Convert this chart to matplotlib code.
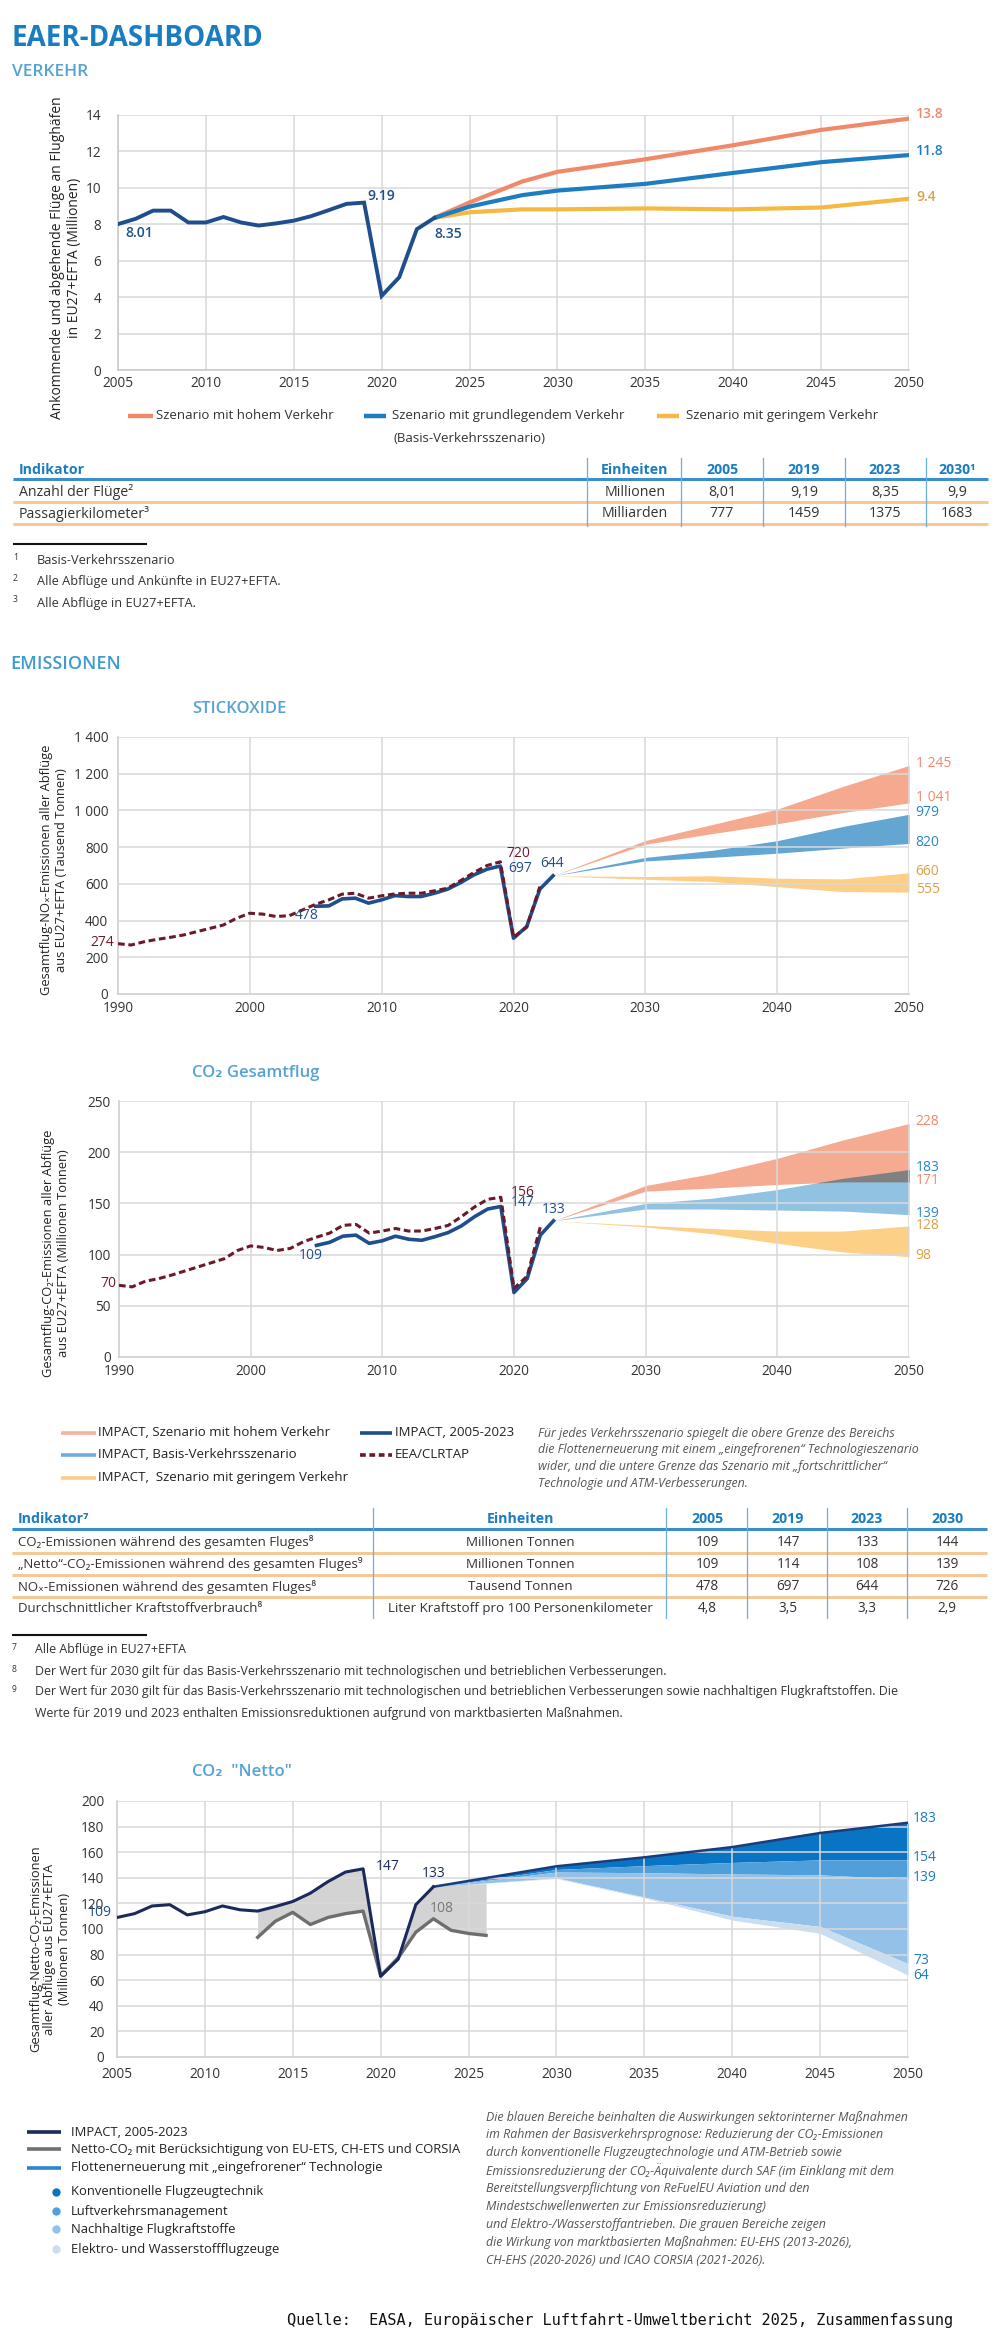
import numpy as np
import matplotlib
matplotlib.use('Agg')
import matplotlib.pyplot as plt
from matplotlib import font_manager as fm
from matplotlib.lines import Line2D

# ---------------- fonts ----------------
_all = fm.fontManager.ttflist


def _ok(name):
    bold = any(f.name == name and int(f.weight) >= 600 for f in _all)
    ital = any(f.name == name and f.style == 'italic' for f in _all)
    return bold and ital


BF = next((n for n in ['Open Sans', 'Noto Sans', 'Fira Sans', 'Lato'] if _ok(n)), 'DejaVu Sans')
SEMI = 'semibold' if any(f.name == BF and int(f.weight) == 600 for f in _all) else 'bold'
BODY = [BF, 'DejaVu Sans']
MONO = ['DejaVu Sans Mono']

# ---------------- data : Verkehr ----------------
flight_years = list(range(2005, 2024))
flights_hist = [8.01, 8.3, 8.75, 8.75, 8.1, 8.1, 8.4, 8.1, 7.93, 8.05, 8.2, 8.45, 8.78, 9.12, 9.19, 4.07, 5.09, 7.73, 8.35]
scen_years = [2023, 2025, 2028, 2030, 2035, 2040, 2045, 2050]
flights_high = [8.35, 9.2, 10.35, 10.88, 11.57, 12.34, 13.18, 13.8]
flights_base = [8.35, 8.97, 9.6, 9.85, 10.22, 10.82, 11.41, 11.8]
flights_low = [8.35, 8.66, 8.82, 8.82, 8.87, 8.82, 8.92, 9.4]

table1_cols = ['Einheiten', '2005', '2019', '2023', '2030\u00b9']
table1_rows = ['Anzahl der Flüge\u00b2', 'Passagierkilometer\u00b3']
table1_units = ['Millionen', 'Milliarden']
table1_vals = [['8,01', '9,19', '8,35', '9,9'], ['777', '1459', '1375', '1683']]
foot1 = [('1', 'Basis-Verkehrsszenario'),
         ('2', 'Alle Abflüge und Ankünfte in EU27+EFTA.'),
         ('3', 'Alle Abflüge in EU27+EFTA.')]

# ---------------- data : Stickoxide ----------------
eea_years = list(range(1990, 2023))
nox_eea = [274, 267, 285, 298, 309, 322, 340, 358, 376, 413, 440, 435, 422, 427, 458, 489, 513, 544, 549,
           522, 535, 545, 549, 549, 562, 576, 618, 662, 700, 720, 309, 364, 585]
impact_years = list(range(2005, 2024))
nox_impact = [478, 480, 518, 522, 495, 513, 536, 531, 531, 549, 571, 607, 649, 680, 697, 304, 367, 571, 644]
proj_years = [2023, 2030, 2035, 2040, 2045, 2050]
nox_high_up = [644, 836, 922, 1007, 1131, 1245]
nox_high_lo = [644, 816, 873, 927, 989, 1041]
nox_base_up = [644, 744, 782, 835, 913, 979]
nox_base_lo = [644, 725, 744, 767, 795, 820]
nox_low_up = [644, 640, 644, 631, 627, 660]
nox_low_lo = [644, 625, 613, 585, 558, 555]

# ---------------- data : CO2 Gesamtflug ----------------
co2_eea = [70, 68.5, 74, 76.5, 80, 84, 88, 92, 96, 104, 108.5, 107, 104, 106, 112.5, 117, 121, 128.5, 129.5,
           121, 123, 125.5, 123, 123, 125.5, 128.5, 137, 146.5, 154, 156, 67, 79, 127]
co2_impact = [109, 112, 118, 119, 111, 113.5, 118, 115, 114, 117.5, 121.5, 128, 137, 144.5, 147, 63, 76.5, 119, 133]
co2_high_up = [133, 167.5, 179, 194, 212, 228]
co2_high_lo = [133, 162, 165, 168.5, 171, 171]
co2_base_up = [133, 150, 155, 163.5, 174.5, 183]
co2_base_lo = [133, 144.5, 144.5, 143.5, 142.5, 139]
co2_low_up = [133, 128.5, 125.5, 123, 123, 128]
co2_low_lo = [133, 127, 120.5, 111, 102.5, 98]

table2_cols = ['Einheiten', '2005', '2019', '2023', '2030']
table2_rows = ['CO\u2082-Emissionen während des gesamten Fluges\u2078',
               '\u201eNetto\u201c-CO\u2082-Emissionen während des gesamten Fluges\u2079',
               'NO\u2093-Emissionen während des gesamten Fluges\u2078',
               'Durchschnittlicher Kraftstoffverbrauch\u2078']
table2_units = ['Millionen Tonnen', 'Millionen Tonnen', 'Tausend Tonnen',
                'Liter Kraftstoff pro 100 Personenkilometer']
table2_vals = [['109', '147', '133', '144'], ['109', '114', '108', '139'],
               ['478', '697', '644', '726'], ['4,8', '3,5', '3,3', '2,9']]
foot2 = [('7', ['Alle Abflüge in EU27+EFTA']),
         ('8', ['Der Wert für 2030 gilt für das Basis-Verkehrsszenario mit technologischen und betrieblichen Verbesserungen.']),
         ('9', ['Der Wert für 2030 gilt für das Basis-Verkehrsszenario mit technologischen und betrieblichen Verbesserungen sowie nachhaltigen Flugkraftstoffen. Die',
                'Werte für 2019 und 2023 enthalten Emissionsreduktionen aufgrund von marktbasierten Maßnahmen.'])]

# ---------------- data : CO2 Netto ----------------
net_years = list(range(2013, 2027))
net_co2 = [93.5, 106, 113, 103.5, 109, 112, 114, 63.5, 77.5, 97.5, 108, 99, 96.5, 95]
net_gross = [114, 117.5, 121.5, 128, 137, 144.5, 147, 63, 76.5, 119, 133, 134, 135, 135.5]
net_frozen = [133, 149, 156, 164, 175, 183]
net_b1 = [133, 146.5, 149.5, 152, 154, 154]
net_b2 = [133, 144.5, 144, 143, 142.3, 139]
net_b3 = [133, 140, 125, 110, 102, 73]
net_b4 = [133, 139.5, 124.3, 107, 96.6, 64]

# ---------------- colours ----------------
TBLUE = '#1A7CC1'
LBLUE = '#55A3D6'
NAVY = '#1F4E8C'
DNAVY = '#1B2A5C'
MAROON = '#6B1A2A'
SALMON = '#F0896A'
BLUE = '#1E7CC0'
GOLD = '#F5B942'
GOLDT = '#D9A047'
GRID = '#D9D9D9'
TXT = '#333333'

W, H = 1000, 2350
fig = plt.figure(figsize=(10, 23.5), dpi=100)
fig.patch.set_facecolor('white')


def fx(x):
    return x / W


def fy(y):
    return 1 - y / H


def add_ax(x0, y0, x1, y1):
    return fig.add_axes([fx(x0), fy(y1), (x1 - x0) / W, (y1 - y0) / H])


def T(x, y, s, size=9.5, color=TXT, weight='normal', ha='left', va='center', style='normal',
      family=None, **kw):
    fig.text(fx(x), fy(y), s, fontsize=size, color=color, fontweight=weight, ha=ha, va=va,
             fontstyle=style, family=family or BODY, **kw)


def hline(x0, x1, y, color, lw, ls='-'):
    fig.add_artist(Line2D([fx(x0), fx(x1)], [fy(y), fy(y)], color=color, lw=lw, ls=ls,
                          transform=fig.transFigure, solid_capstyle='butt'))


def vline(x, y0, y1, color, lw):
    fig.add_artist(Line2D([fx(x), fx(x)], [fy(y0), fy(y1)], color=color, lw=lw,
                          transform=fig.transFigure))


def style_ax(ax, xlim, xticks, ylim, yticks, ylabels=None, grid_over=False, ypad=8, xpad=5, size=9.8):
    ax.set_xlim(*xlim)
    ax.set_ylim(*ylim)
    ax.set_xticks(xticks)
    ax.set_yticks(yticks)
    if ylabels is not None:
        ax.set_yticklabels(ylabels)
    ax.grid(True, color=GRID, lw=1.1)
    ax.set_axisbelow(not grid_over)
    for s in ['top', 'right']:
        ax.spines[s].set_visible(False)
    for s in ['left', 'bottom']:
        ax.spines[s].set_color('#C8C8C8')
        ax.spines[s].set_linewidth(1.1)
    ax.tick_params(axis='y', length=0, labelsize=size, colors=TXT, pad=ypad)
    ax.tick_params(axis='x', length=0, labelsize=size, colors=TXT, pad=xpad)
    for lab in ax.get_xticklabels() + ax.get_yticklabels():
        lab.set_family(BODY)


def atext(ax, x, y, s, color, ha='left', size=10, weight='normal'):
    ax.text(x, y, s, color=color, ha=ha, va='center', fontsize=size, family=BODY,
            fontweight=weight, clip_on=False, zorder=6)


# ================= HEADER =================
T(12, 46.5, 'EAER-DASHBOARD', size=20, color=TBLUE, weight='bold', va='baseline')
T(12, 75.5, 'VERKEHR', size=12.5, color=LBLUE, weight=SEMI, va='baseline')

# ================= CHART 1 : Verkehr =================
ax1 = add_ax(118, 115, 909, 370)
ax1.plot(scen_years, flights_low, color=GOLD, lw=3.0, zorder=3, solid_capstyle='round')
ax1.plot(scen_years, flights_high, color=SALMON, lw=3.0, zorder=3, solid_capstyle='round')
ax1.plot(scen_years, flights_base, color=BLUE, lw=3.0, zorder=4, solid_capstyle='round')
ax1.plot(flight_years, flights_hist, color=NAVY, lw=2.8, zorder=5, solid_joinstyle='miter')
style_ax(ax1, (2005, 2050), list(range(2005, 2051, 5)), (0, 14), list(range(0, 15, 2)), ypad=12, xpad=4)
atext(ax1, 2005.4, 7.5, '8.01', NAVY, weight=SEMI, size=10)
atext(ax1, 2019.2, 9.55, '9.19', NAVY, weight=SEMI, size=10)
atext(ax1, 2023.0, 7.45, '8.35', NAVY, weight=SEMI, size=10)
atext(ax1, 2050.4, 14.05, '13.8', SALMON, weight=SEMI, size=10)
atext(ax1, 2050.4, 12.0, '11.8', BLUE, weight=SEMI, size=10)
atext(ax1, 2050.4, 9.52, '9.4', GOLDT, weight=SEMI, size=10)
T(66, 258, 'Ankommende und abgehende Flüge an Flughäfen\nin EU27+EFTA (Millionen)', size=10,
  color='#222222', ha='center', rotation=90, linespacing=1.25, multialignment='center')
# legend
for (x0, x1, tx, col, lab) in [(128, 153, 156, SALMON, 'Szenario mit hohem Verkehr'),
                               (364, 386, 392, BLUE, 'Szenario mit grundlegendem Verkehr'),
                               (657, 679, 686, GOLD, 'Szenario mit geringem Verkehr')]:
    hline(x0, x1, 416, col, 3.2)
    T(tx, 416, lab, size=9.5)
T(393, 439, '(Basis-Verkehrsszenario)', size=9.5)

# ================= TABLE 1 =================
col1_x = [635, 722, 804, 885, 957]
T(19, 470, 'Indikator', size=10.2, color=TBLUE, weight='bold')
for cx, c in zip(col1_x, table1_cols):
    T(cx, 470, c, size=10.2, color=TBLUE, weight='bold', ha='center')
hline(13, 988, 479, '#3A8FCB', 2.2)
for i, (r, u, vals) in enumerate(zip(table1_rows, table1_units, table1_vals)):
    yy = 492 + i * 21.5
    T(19, yy, r, size=10.2)
    T(col1_x[0], yy, u, size=10.2, ha='center')
    for cx, v in zip(col1_x[1:], vals):
        T(cx, yy, v, size=10.2, ha='center')
    hline(13, 988, yy + 10, '#F5C89A', 2.2)
for vx in [587, 681, 763, 845, 926]:
    vline(vx, 458, 526, '#6FAEE0', 0.9)
hline(13, 147, 544, '#111111', 1.5)
for i, (n, s) in enumerate(foot1):
    yy = 560 + i * 21.5
    T(13, yy - 3, n, size=6.2, color=TXT)
    T(37, yy, s, size=9.2, color=TXT)

T(10, 664, 'EMISSIONEN', size=13, color='#3E9BD0', weight=SEMI)

# ================= CHART 2 : Stickoxide =================
T(192, 709, 'STICKOXIDE', size=12, color=LBLUE, weight=SEMI)
ax2 = add_ax(118, 737, 909, 994)
ax2.fill_between(proj_years, nox_high_lo, nox_high_up, color='#F5A98F', lw=0, zorder=1)
ax2.fill_between(proj_years, nox_base_lo, nox_base_up, color='#63A6D2', lw=0, zorder=1)
ax2.fill_between(proj_years, nox_low_lo, nox_low_up, color='#FCCF85', lw=0, zorder=1)
ax2.plot(impact_years, nox_impact, color=NAVY, lw=2.6, zorder=4)
ax2.plot(eea_years, nox_eea, color=MAROON, lw=2.2, ls=(0, (2.2, 1.2)), zorder=5)
style_ax(ax2, (1990, 2050), list(range(1990, 2051, 10)), (0, 1400), list(range(0, 1401, 200)),
         ylabels=['0', '200', '400', '600', '800', '1 000', '1 200', '1 400'], grid_over=True, ypad=7, xpad=5)
atext(ax2, 1989.7, 278, '274', MAROON, ha='right')
atext(ax2, 2004.3, 425, '478', NAVY, ha='center')
atext(ax2, 2020.4, 768, '720', MAROON, ha='center')
atext(ax2, 2020.5, 681, '697', NAVY, ha='center')
atext(ax2, 2022.9, 713, '644', NAVY, ha='center')
atext(ax2, 2050.5, 1258, '1 245', SALMON)
atext(ax2, 2050.5, 1073, '1 041', SALMON)
atext(ax2, 2050.5, 986, '979', '#2A86C8')
atext(ax2, 2050.5, 828, '820', '#2A86C8')
atext(ax2, 2050.5, 670, '660', GOLDT)
atext(ax2, 2050.5, 567, '555', GOLDT)
T(54, 870, 'Gesamtflug-NO\u2093-Emissionen aller Abflüge\naus EU27+EFTA (Tausend Tonnen)', size=9.3,
  color='#222222', ha='center', rotation=90, linespacing=1.25, multialignment='center')

# ================= CHART 3 : CO2 Gesamtflug =================
T(192, 1073, 'CO\u2082 Gesamtflug', size=12, color=LBLUE, weight=SEMI)
ax3 = add_ax(119, 1101, 909, 1357)
ax3.fill_between(proj_years, co2_high_lo, co2_high_up, color='#F5AA92', lw=0, zorder=1)
ax3.fill_between(proj_years, co2_base_lo, co2_base_up, color='#92C2E2', lw=0, zorder=1)
ov_top = np.minimum(co2_high_up, co2_base_up)
ov_bot = np.maximum(co2_high_lo, co2_base_lo)
ax3.fill_between(proj_years, ov_bot, ov_top, where=ov_top > ov_bot, interpolate=True,
                 color='#808080', lw=0, zorder=1.2)
ax3.fill_between(proj_years, co2_low_lo, co2_low_up, color='#FDD088', lw=0, zorder=1)
ax3.plot(impact_years, co2_impact, color=NAVY, lw=2.6, zorder=4)
ax3.plot(eea_years, co2_eea, color=MAROON, lw=2.2, ls=(0, (2.2, 1.2)), zorder=5)
style_ax(ax3, (1990, 2050), list(range(1990, 2051, 10)), (0, 250), list(range(0, 251, 50)),
         grid_over=True, ypad=6, xpad=5)
atext(ax3, 1989.8, 71.5, '70', MAROON, ha='right')
atext(ax3, 2004.6, 99.6, '109', NAVY, ha='center')
atext(ax3, 2020.7, 161, '156', MAROON, ha='center')
atext(ax3, 2020.7, 150.4, '147', NAVY, ha='center')
atext(ax3, 2023.0, 144.5, '133', NAVY, ha='center')
atext(ax3, 2050.5, 229.5, '228', SALMON)
atext(ax3, 2050.5, 185.5, '183', '#2A86C8')
atext(ax3, 2050.5, 172.8, '171', SALMON)
atext(ax3, 2050.5, 140.6, '139', '#2A86C8')
atext(ax3, 2050.5, 128, '128', GOLDT)
atext(ax3, 2050.5, 99.6, '98', GOLDT)
T(56, 1253, 'Gesamtflug-CO\u2082-Emissionen aller Abflüge\naus EU27+EFTA (Millionen Tonnen)', size=9.3,
  color='#222222', ha='center', rotation=90, linespacing=1.25, multialignment='center')

# legend chart 2/3
leg = [(61, 96, 98, 1433, '#F7B3A0', '-', 'IMPACT, Szenario mit hohem Verkehr'),
       (61, 96, 98, 1455, '#6FAEDA', '-', 'IMPACT, Basis-Verkehrsszenario'),
       (61, 96, 98, 1478, '#FCCB85', '-', 'IMPACT,  Szenario mit geringem Verkehr'),
       (360, 392, 395, 1433, NAVY, '-', 'IMPACT, 2005-2023'),
       (360, 392, 395, 1455, MAROON, (0, (1.6, 1.0)), 'EEA/CLRTAP')]
for x0, x1, tx, yy, col, ls, lab in leg:
    hline(x0, x1, yy, col, 2.6, ls=ls)
    T(tx, yy, lab, size=9.5, color='#222222')
ital1 = ['Für jedes Verkehrsszenario spiegelt die obere Grenze des Bereichs',
         'die Flottenerneuerung mit einem \u201eeingefrorenen\u201c Technologieszenario',
         'wider, und die untere Grenze das Szenario mit \u201efortschrittlicher\u201c',
         'Technologie und ATM-Verbesserungen.']
for i, s in enumerate(ital1):
    T(538, 1433 + i * 16.7, s, size=8.9, color='#555555', style='italic')

# ================= TABLE 2 =================
col2_x = [520, 707, 788, 867, 947]
T(18, 1519, 'Indikator\u2077', size=10.2, color=TBLUE, weight='bold')
for cx, c in zip(col2_x, table2_cols):
    T(cx, 1519, c, size=10.2, color=TBLUE, weight='bold', ha='center')
hline(12, 987, 1529, '#3A8FCB', 2.2)
for i, (r, u, vals) in enumerate(zip(table2_rows, table2_units, table2_vals)):
    yy = 1542 + i * 22.3
    T(18, yy, r, size=9.5)
    T(col2_x[0], yy, u, size=9.6, ha='center')
    for cx, v in zip(col2_x[1:], vals):
        T(cx, yy, v, size=9.8, ha='center')
    if i < 3:
        hline(12, 987, yy + 10.5, '#F5C89A', 2.2)
for vx in [373, 666, 747, 827, 907]:
    vline(vx, 1508, 1618, '#6FAEE0', 0.9)
hline(12, 147, 1635, '#111111', 1.5)
fy_pos = [1650, 1672, 1692]
for (n, lines), yy in zip(foot2, fy_pos):
    T(12, yy - 3, n, size=6.2, color=TXT)
    for j, s in enumerate(lines):
        T(35, yy + j * 21, s, size=8.9, color=TXT)

# ================= CHART 4 : CO2 Netto =================
T(192, 1772, 'CO\u2082  "Netto"', size=12, color=LBLUE, weight=SEMI)
ax4 = add_ax(117, 1801, 908, 2057)
ax4.fill_between(net_years, net_co2, net_gross, color='#D3D3D3', lw=0, zorder=1)
ax4.fill_between(proj_years, net_b1, net_frozen, color='#0A74C4', lw=0, zorder=1)
ax4.fill_between(proj_years, net_b2, net_b1, color='#4F9FDB', lw=0, zorder=1)
ax4.fill_between(proj_years, net_b3, net_b2, color='#93C1E8', lw=0, zorder=1)
ax4.fill_between(proj_years, net_b4, net_b3, color='#C9DEF1', lw=0, zorder=1)
ax4.plot(proj_years, net_frozen, color='#1B3C7A', lw=1.8, zorder=4)
ax4.plot(net_years, net_co2, color='#6E6E6E', lw=2.4, zorder=4)
ax4.plot(impact_years, co2_impact, color=DNAVY, lw=2.2, zorder=5)
style_ax(ax4, (2005, 2050), list(range(2005, 2051, 5)), (0, 200), list(range(0, 201, 20)),
         grid_over=True, ypad=9, xpad=7)
atext(ax4, 2004.7, 112.5, '109', NAVY, ha='right')
atext(ax4, 2020.4, 149, '147', DNAVY, ha='center')
atext(ax4, 2023.0, 143, '133', DNAVY, ha='center')
atext(ax4, 2023.5, 116.4, '108', '#777777', ha='center')
for v, yv in [(183, 186), (154, 155.5), (139, 140.6), (73, 75), (64, 63.3)]:
    atext(ax4, 2050.3, yv, str(v), TBLUE)
T(50, 1949, 'Gesamtflug-Netto-CO\u2082-Emissionen\naller Abflüge aus EU27+EFTA\n(Millionen Tonnen)', size=9.3,
  color='#222222', ha='center', rotation=90, linespacing=1.15, multialignment='center')

# legend chart 4
for yy, col, lab in [(2132, DNAVY, 'IMPACT, 2005-2023'),
                     (2149, '#707070', 'Netto-CO\u2082 mit Berücksichtigung von EU-ETS, CH-ETS und CORSIA'),
                     (2168, '#2E86CF', 'Flottenerneuerung mit \u201eeingefrorener\u201c Technologie')]:
    hline(27, 61, yy, col, 2.6)
    T(71, yy, lab, size=9.4, color='#222222')
for yy, col, lab in [(2192, '#0A74C4', 'Konventionelle Flugzeugtechnik'),
                     (2211, '#4F9FDB', 'Luftverkehrsmanagement'),
                     (2229, '#93C1E8', 'Nachhaltige Flugkraftstoffe'),
                     (2249, '#C9DEF1', 'Elektro- und Wasserstoffflugzeuge')]:
    fig.add_artist(Line2D([fx(56)], [fy(yy)], marker='o', ms=5, color=col, lw=0,
                          transform=fig.transFigure))
    T(71, yy, lab, size=9.4, color='#222222')
ital2 = ['Die blauen Bereiche beinhalten die Auswirkungen sektorinterner Maßnahmen',
         'im Rahmen der Basisverkehrsprognose: Reduzierung der CO\u2082-Emissionen',
         'durch konventionelle Flugzeugtechnologie und ATM-Betrieb sowie',
         'Emissionsreduzierung der CO\u2082-Äquivalente durch SAF (im Einklang mit dem',
         'Bereitstellungsverpflichtung von ReFuelEU Aviation und den',
         'Mindestschwellenwerten zur Emissionsreduzierung)',
         'und Elektro-/Wasserstoffantrieben. Die grauen Bereiche zeigen',
         'die Wirkung von marktbasierten Maßnahmen: EU-EHS (2013-2026),',
         'CH-EHS (2020-2026) und ICAO CORSIA (2021-2026).']
for i, s in enumerate(ital2):
    T(486, 2117 + i * 17.9, s, size=8.9, color='#555555', style='italic')

T(953, 2320, 'Quelle:  EASA, Europäischer Luftfahrt-Umweltbericht 2025, Zusammenfassung', size=11,
  color='#111111', ha='right', family=MONO)

fig.savefig('out.png', dpi=100, facecolor='white')
